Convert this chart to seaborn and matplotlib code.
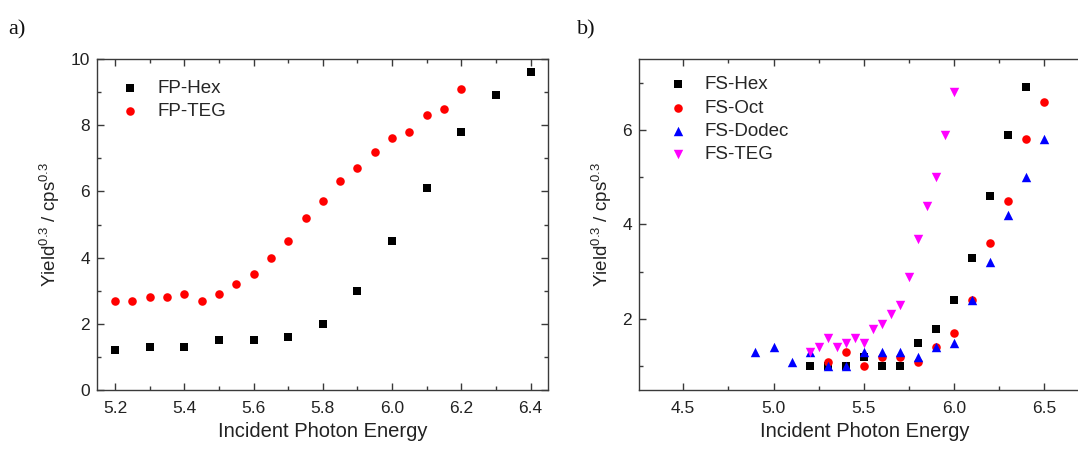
import numpy as np
import pandas as pd
import matplotlib
matplotlib.use("Agg")
import matplotlib.pyplot as plt
from matplotlib.ticker import MultipleLocator
import seaborn as sns

# ---------------- data ----------------
fp_hex_x = [5.2, 5.3, 5.4, 5.5, 5.6, 5.7, 5.8, 5.9, 6.0, 6.1, 6.2, 6.3, 6.4]
fp_hex_y = [1.2, 1.3, 1.3, 1.5, 1.5, 1.6, 2.0, 3.0, 4.5, 6.1, 7.8, 8.9, 9.6]

fp_teg_x = [5.2, 5.25, 5.3, 5.35, 5.4, 5.45, 5.5, 5.55, 5.6, 5.65, 5.7,
            5.75, 5.8, 5.85, 5.9, 5.95, 6.0, 6.05, 6.1, 6.15, 6.2]
fp_teg_y = [2.7, 2.7, 2.8, 2.8, 2.9, 2.7, 2.9, 3.2, 3.5, 4.0, 4.5,
            5.2, 5.7, 6.3, 6.7, 7.2, 7.6, 7.8, 8.3, 8.5, 9.1]

fs_hex_x = [5.2, 5.3, 5.4, 5.5, 5.6, 5.7, 5.8, 5.9, 6.0, 6.1, 6.2, 6.3, 6.4]
fs_hex_y = [1.0, 1.0, 1.0, 1.2, 1.0, 1.0, 1.5, 1.8, 2.4, 3.3, 4.6, 5.9, 6.9]

fs_oct_x = [5.3, 5.4, 5.5, 5.6, 5.7, 5.8, 5.9, 6.0, 6.1, 6.2, 6.3, 6.4, 6.5]
fs_oct_y = [1.1, 1.3, 1.0, 1.2, 1.2, 1.1, 1.4, 1.7, 2.4, 3.6, 4.5, 5.8, 6.6]

fs_dodec_x = [4.9, 5.0, 5.1, 5.2, 5.3, 5.4, 5.5, 5.6, 5.7, 5.8, 5.9, 6.0,
              6.1, 6.2, 6.3, 6.4, 6.5]
fs_dodec_y = [1.3, 1.4, 1.1, 1.3, 1.0, 1.0, 1.3, 1.3, 1.3, 1.2, 1.4, 1.5,
              2.4, 3.2, 4.2, 5.0, 5.8]

fs_teg_x = [5.2, 5.25, 5.3, 5.35, 5.4, 5.45, 5.5, 5.55, 5.6, 5.65, 5.7,
            5.75, 5.8, 5.85, 5.9, 5.95, 6.0]
fs_teg_y = [1.3, 1.4, 1.6, 1.4, 1.5, 1.6, 1.5, 1.8, 1.9, 2.1, 2.3,
            2.9, 3.7, 4.4, 5.0, 5.9, 6.8]

x_label = "Incident Photon Energy"
y_label = "Yield$^{0.3}$ / cps$^{0.3}$"

# ---------------- style ----------------
sns.set_style("ticks")
plt.rcParams["font.family"] = ["Liberation Sans", "DejaVu Sans"]
plt.rcParams["mathtext.fontset"] = "custom"
plt.rcParams["mathtext.rm"] = "Liberation Sans"
plt.rcParams["mathtext.it"] = "Liberation Sans"
plt.rcParams["mathtext.default"] = "regular"

W, H = 1078, 453
fig = plt.figure(figsize=(W / 100, H / 100), dpi=100)

def axes_px(x0, y0, x1, y1):
    return fig.add_axes([x0 / W, 1 - y1 / H, (x1 - x0) / W, (y1 - y0) / H])

axA = axes_px(97, 59, 548, 390)
axB = axes_px(639, 59, 1090, 390)

spine_col = "#3a3a3a"

def style_axes(ax):
    for s in ax.spines.values():
        s.set_visible(True)
        s.set_color(spine_col)
        s.set_linewidth(1.0)
    ax.tick_params(which="both", direction="in", top=True, right=True,
                   color=spine_col, width=1.0, labelsize=12.5,
                   labelcolor="#222222")
    ax.tick_params(which="major", length=5)
    ax.tick_params(which="minor", length=3)
    ax.tick_params(axis="x", which="both", pad=8)
    ax.tick_params(axis="y", which="both", pad=5)
    ax.set_xlabel(x_label, fontsize=14.5, color="#222222", labelpad=4)
    ax.set_ylabel(y_label, fontsize=13.5, color="#222222", labelpad=6)
    ax.set_facecolor("white")
    ax.grid(False)

def scatter(ax, x, y, color, marker, size, label):
    df = pd.DataFrame({"x": x, "y": y})
    sns.scatterplot(data=df, x="x", y="y", ax=ax, color=color, marker=marker,
                    s=size, linewidth=0, label=label, zorder=3)

# panel a
scatter(axA, fp_hex_x, fp_hex_y, "black", "s", 28, "FP-Hex")
scatter(axA, fp_teg_x, fp_teg_y, "#ff0000", "o", 38, "FP-TEG")
axA.set_xlim(5.148, 6.45)
axA.set_ylim(0, 10)
axA.xaxis.set_major_locator(MultipleLocator(0.2))
axA.xaxis.set_minor_locator(MultipleLocator(0.1))
axA.yaxis.set_major_locator(MultipleLocator(2))
axA.yaxis.set_minor_locator(MultipleLocator(1))
axA.xaxis.set_major_formatter(matplotlib.ticker.FormatStrFormatter("%.1f"))
style_axes(axA)
axA.legend(loc="upper left", bbox_to_anchor=(0.052, 0.937), frameon=False,
           fontsize=13.5, borderaxespad=0, borderpad=0, handlelength=1.0,
           handletextpad=0.95, labelspacing=0.33, markerscale=1.0)

# panel b
scatter(axB, fs_hex_x, fs_hex_y, "black", "s", 28, "FS-Hex")
scatter(axB, fs_oct_x, fs_oct_y, "#ff0000", "o", 38, "FS-Oct")
scatter(axB, fs_dodec_x, fs_dodec_y, "#0000ff", "^", 46, "FS-Dodec")
scatter(axB, fs_teg_x, fs_teg_y, "#ff00ff", "v", 46, "FS-TEG")
axB.set_xlim(4.255, 6.753)
axB.set_ylim(0.5, 7.5)
axB.xaxis.set_major_locator(MultipleLocator(0.5))
axB.xaxis.set_minor_locator(MultipleLocator(0.25))
axB.yaxis.set_major_locator(MultipleLocator(2))
axB.yaxis.set_minor_locator(MultipleLocator(1))
axB.xaxis.set_major_formatter(matplotlib.ticker.FormatStrFormatter("%.1f"))
style_axes(axB)
axB.legend(loc="upper left", bbox_to_anchor=(0.065, 0.948), frameon=False,
           fontsize=13.5, borderaxespad=0, borderpad=0, handlelength=1.0,
           handletextpad=0.95, labelspacing=0.33, markerscale=1.0)

# panel letters
fig.text(8 / W, 1 - 30 / H, "a)", fontsize=16, family=["Liberation Serif"],
         va="center", ha="left", color="#111111")
fig.text(577 / W, 1 - 30 / H, "b)", fontsize=16, family=["Liberation Serif"],
         va="center", ha="left", color="#111111")

fig.savefig("out.png", dpi=100, facecolor="white")
